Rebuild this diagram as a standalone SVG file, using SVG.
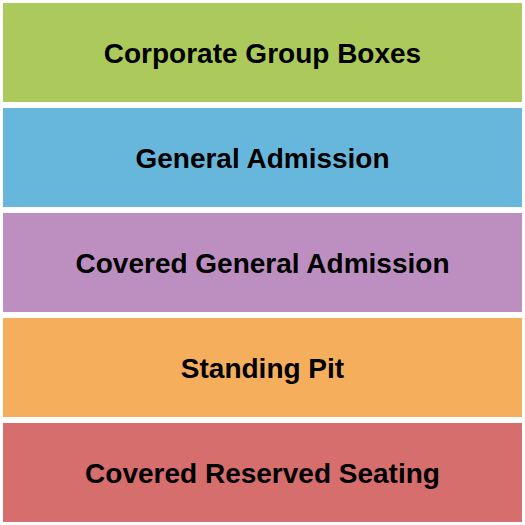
<svg xmlns="http://www.w3.org/2000/svg" width="525" height="525" viewBox="0 0 525 525">
<style>
.band{stroke:none}
.lbl{font-family:"Liberation Sans",Arial,sans-serif;font-weight:bold;font-size:28px;fill:#000;text-anchor:middle}
</style>
<rect width="525" height="525" fill="#ffffff"/>
<g id="corporate-group-boxes">
<rect class="band" x="3" y="3" width="519" height="99" fill="#abca5b"/>
<text class="lbl" x="262.5" y="63">Corporate Group Boxes</text>
</g>
<g id="general-admission">
<rect class="band" x="3" y="108" width="519" height="99" fill="#67b7dc"/>
<text class="lbl" x="262.5" y="168">General Admission</text>
</g>
<g id="covered-general-admission">
<rect class="band" x="3" y="213" width="519" height="99" fill="#bd8fc1"/>
<text class="lbl" x="262.5" y="273">Covered General Admission</text>
</g>
<g id="standing-pit">
<rect class="band" x="3" y="318" width="519" height="99" fill="#f5ae5b"/>
<text class="lbl" x="262.5" y="378">Standing Pit</text>
</g>
<g id="covered-reserved-seating">
<rect class="band" x="3" y="423" width="519" height="99" fill="#d66e6e"/>
<text class="lbl" x="262.5" y="483">Covered Reserved Seating</text>
</g>
<g id="connectors"></g>
</svg>
